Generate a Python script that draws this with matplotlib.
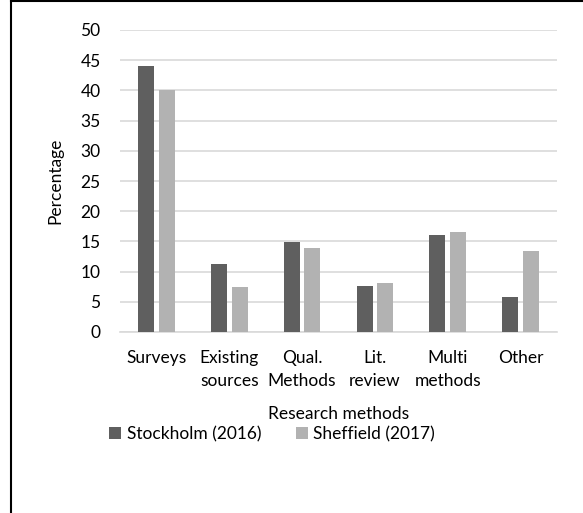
import matplotlib
matplotlib.use('Agg')
import matplotlib.pyplot as plt
import numpy as np

plt.rcParams['font.family'] = ['Lato', 'DejaVu Sans']

# share of papers by research method
methods = ['Surveys', 'Existing\nsources', 'Qual.\nMethods', 'Lit.\nreview', 'Multi\nmethods', 'Other']
stockholm = [44.0, 11.3, 14.9, 7.6, 16.1, 5.8]
sheffield = [40.0, 7.5, 13.9, 8.1, 16.6, 13.4]
yticks = [0, 5, 10, 15, 20, 25, 30, 35, 40, 45, 50]

fig = plt.figure(figsize=(5.83, 5.13), dpi=100)
ax = fig.add_axes([120 / 583, 1 - 332 / 513, 437 / 583, 302 / 513])

x = np.arange(len(methods))
w = 0.22
ax.bar(x - 0.1425, stockholm, w, color='#5f5f5f', label='Stockholm (2016)', zorder=3)
ax.bar(x + 0.1425, sheffield, w, color='#b2b2b2', label='Sheffield (2017)', zorder=3)

ax.set_xlim(-0.5, len(methods) - 0.5)
ax.set_ylim(0, 50)
ax.set_yticks(yticks)
ax.set_xticks(x)
ax.set_xticklabels(methods, fontsize=12.5, linespacing=1.55)
ax.tick_params(axis='y', labelsize=12.5, length=0, pad=14)
ax.tick_params(axis='x', length=0, pad=13)
ax.grid(axis='y', color='#d9d9d9', linewidth=1.2, zorder=0)
for s in ['top', 'right', 'left']:
    ax.spines[s].set_visible(False)
ax.spines['bottom'].set_color('#d9d9d9')
ax.spines['bottom'].set_linewidth(1.2)

ax.set_ylabel('Percentage', fontsize=12.5, labelpad=12)
ax.set_xlabel('Research methods', fontsize=12.5, labelpad=12)

fig.legend(loc='center', bbox_to_anchor=(272 / 583, 1 - 434 / 513), ncol=2, frameon=False,
           fontsize=12.5, handlelength=0.7, handleheight=0.7, handletextpad=0.3,
           columnspacing=2.0)

# outer frame lines
fig.add_artist(plt.Line2D([11 / 583, 11 / 583], [0, 1 - 1 / 513], color='black', lw=1.5))
fig.add_artist(plt.Line2D([11 / 583, 1], [1 - 1 / 513, 1 - 1 / 513], color='black', lw=1.5))

fig.savefig('out.png', dpi=100)
